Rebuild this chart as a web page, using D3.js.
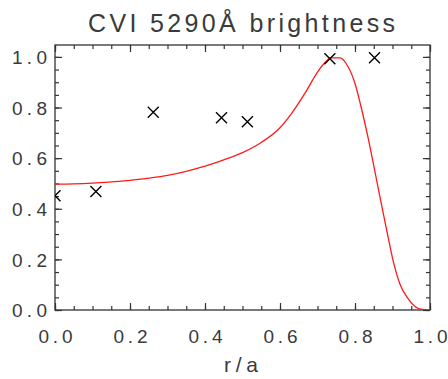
<!DOCTYPE html>
<html><head><meta charset="utf-8">
<script src="https://cdn.jsdelivr.net/npm/d3@7"></script>
<style>body{margin:0;background:#fff}svg{display:block}</style>
</head><body>
<script>
const titleText = "CVI 5290Å brightness";
const xLabelText = "r/a";
const xTicks = [0, 0.2, 0.4, 0.6, 0.8, 1.0];
const yTicks = [0, 0.2, 0.4, 0.6, 0.8, 1.0];
// measured points (crosses)
const measR = [0.0, 0.109, 0.262, 0.444, 0.513, 0.733, 0.852];
const measB = [0.451, 0.468, 0.781, 0.760, 0.744, 0.993, 0.997];
// model curve
const curveR = [0, 0.05, 0.1, 0.15, 0.2, 0.25, 0.3, 0.35, 0.4, 0.45, 0.5, 0.55, 0.6, 0.63, 0.67, 0.7, 0.72, 0.735, 0.76, 0.78, 0.8, 0.815, 0.835, 0.85, 0.865, 0.885, 0.9, 0.92, 0.94, 0.96, 0.98, 1.0];
const curveB = [0.497, 0.498, 0.501, 0.506, 0.512, 0.521, 0.532, 0.548, 0.568, 0.593, 0.622, 0.662, 0.72, 0.775, 0.865, 0.94, 0.978, 0.996, 0.996, 0.965, 0.895, 0.81, 0.68, 0.57, 0.458, 0.312, 0.205, 0.102, 0.048, 0.014, 0.002, 0.0];

const W = 448, H = 379;
const L = 55, R = 430, T = 45, B = 310;
const svg = d3.select("body").append("svg").attr("width", W).attr("height", H);
const x = d3.scaleLinear().domain([0, 1]).range([L, R]);
const y = d3.scaleLinear().domain([0, 1.047]).range([B, T]);
const axisColor = "#333";
const textColor = "#3a3a3a";
const font = "'Liberation Sans', Arial, sans-serif";

const minorX = d3.range(0, 1.0001, 0.05);
const minorY = d3.range(0, 1.0001, 0.05);

function style(g) {
  g.select(".domain").remove();
  g.selectAll("line").attr("stroke", axisColor).attr("stroke-width", 1.2);
}
// bottom
svg.append("g").attr("transform", `translate(0,${B})`)
  .call(d3.axisBottom(x).tickValues(minorX).tickSize(-4).tickFormat("")).call(style);
const gb = svg.append("g").attr("transform", `translate(0,${B})`)
  .call(d3.axisBottom(x).tickValues(xTicks).tickSize(-7).tickFormat(d3.format(".1f"))).call(style);
gb.selectAll("text").attr("y", 33).attr("dy", null)
  .attr("font-family", font).attr("font-size", 19).attr("fill", textColor)
  .attr("textLength", 34).attr("lengthAdjust", "spacing");
// top
svg.append("g").attr("transform", `translate(0,${T})`)
  .call(d3.axisTop(x).tickValues(minorX).tickSize(-4).tickFormat("")).call(style);
svg.append("g").attr("transform", `translate(0,${T})`)
  .call(d3.axisTop(x).tickValues(xTicks).tickSize(-7).tickFormat("")).call(style);
// left
svg.append("g").attr("transform", `translate(${L},0)`)
  .call(d3.axisLeft(y).tickValues(minorY).tickSize(-4).tickFormat("")).call(style);
const gl = svg.append("g").attr("transform", `translate(${L},0)`)
  .call(d3.axisLeft(y).tickValues(yTicks).tickSize(-7).tickFormat(d3.format(".1f"))).call(style);
gl.selectAll("text").attr("x", -8).attr("dy", "0.36em")
  .attr("font-family", font).attr("font-size", 19).attr("fill", textColor)
  .attr("textLength", 35).attr("lengthAdjust", "spacing");
// right
svg.append("g").attr("transform", `translate(${R},0)`)
  .call(d3.axisRight(y).tickValues(minorY).tickSize(-4).tickFormat("")).call(style);
svg.append("g").attr("transform", `translate(${R},0)`)
  .call(d3.axisRight(y).tickValues(yTicks).tickSize(-7).tickFormat("")).call(style);

// frame
svg.append("rect").attr("x", L).attr("y", T).attr("width", R - L).attr("height", B - T)
  .attr("fill", "none").attr("stroke", axisColor).attr("stroke-width", 1.3);

svg.append("clipPath").attr("id", "clip").append("rect")
  .attr("x", L).attr("y", T).attr("width", R - L).attr("height", B - T);
const plot = svg.append("g").attr("clip-path", "url(#clip)");

// curve
const pts = curveR.map((r, i) => [r, curveB[i]]);
plot.append("path").datum(pts)
  .attr("d", d3.line().curve(d3.curveMonotoneX).x(d => x(d[0])).y(d => y(d[1])))
  .attr("fill", "none").attr("stroke", "#ff1a1a").attr("stroke-width", 1.3);

// crosses
const s = 5.5;
const meas = measR.map((r, i) => [r, measB[i]]);
plot.selectAll("path.cross").data(meas).join("path").attr("class", "cross")
  .attr("d", d => {
    const cx = x(d[0]), cy = y(d[1]);
    return `M${cx - s},${cy - s}L${cx + s},${cy + s}M${cx - s},${cy + s}L${cx + s},${cy - s}`;
  })
  .attr("stroke", "#000").attr("stroke-width", 1.4).attr("fill", "none");

// title
svg.append("text").attr("x", 241.5).attr("y", 32).attr("text-anchor", "middle")
  .attr("font-family", font).attr("font-size", 25).attr("fill", textColor)
  .attr("textLength", 307).attr("lengthAdjust", "spacing").text(titleText);
// x label
svg.append("text").attr("x", 241).attr("y", 372).attr("text-anchor", "middle")
  .attr("font-family", font).attr("font-size", 21).attr("fill", textColor)
  .attr("textLength", 34).attr("lengthAdjust", "spacing").text(xLabelText);
</script>
</body></html>
